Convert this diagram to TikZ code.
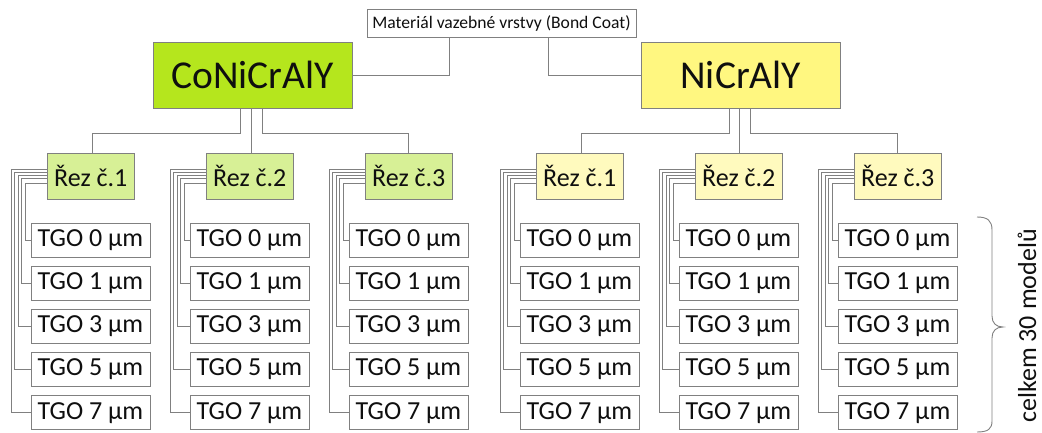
\documentclass[tikz,border=0pt]{standalone}
\usepackage{fontspec}
\setmainfont{Carlito}
\definecolor{linegray}{RGB}{128,128,128}
\definecolor{cofill}{RGB}{181,230,29}
\definecolor{nifill}{RGB}{255,247,128}
\definecolor{rezg}{RGB}{215,240,150}
\definecolor{rezy}{RGB}{255,250,190}
\definecolor{txt}{RGB}{15,15,15}
\tikzset{
  box/.style={draw=linegray, line width=0.9pt, inner sep=0pt, text=txt},
  topbox/.style={box, fill=white, minimum width=269pt, minimum height=28pt, font=\fontsize{17.6}{18}\selectfont},
  mainbox/.style={box, minimum width=199pt, minimum height=66pt, font=\fontsize{39.5}{41}\selectfont},
  rezbox/.style={box, minimum width=86.5pt, minimum height=46pt, font=\fontsize{26}{27}\selectfont},
  tgobox/.style={box, fill=white, minimum width=119pt, minimum height=34pt, font=\fontsize{26}{27}\selectfont},
  conn/.style={draw=linegray, line width=0.9pt},
}
\begin{document}
\begin{tikzpicture}[x=1pt, y=-1pt]
\useasboundingbox (0,0) rectangle (1042,433);
\node[topbox] (top) at (501.5,23) {Materiál vazebné vrstvy (Bond Coat)};
\node[mainbox, fill=cofill] (co) at (252.5,75) {CoNiCrAlY};
\node[mainbox, fill=nifill, minimum width=198.5pt] (ni) at (740.75,75) {NiCrAlY};
\draw[conn] (co.east) -| ([xshift=-52pt]top.south);
\draw[conn] (ni.west) -| ([xshift=47pt]top.south);
\foreach \g/\dx/\lab/\fc in {1/0/1/rezg, 2/159/2/rezg, 3/318/3/rezg, 4/489/1/rezy, 5/648/2/rezy, 6/807/3/rezy}{
  \node[rezbox, fill=\fc] (r\g) at (90.75+\dx,176) {Řez č.\lab};
  \foreach \i/\v/\yo/\xo in {0/0/7/22, 1/1/2.5/25.5, 2/3/-0.5/29, 3/5/-3.5/32.5, 4/7/-6.5/36}{
    \node[tgobox] (t\g-\i) at (90.5+\dx,240+43.2*\i) {TGO \v\ µm};
    \draw[conn] ([yshift=-\yo pt]r\g.west) -- ++(-\xo,0) |- (t\g-\i.west);
  }
}
% main to section connectors
\draw[conn] ([xshift=-12pt]co.south) -- ++(0,25) -| ([xshift=2pt]r1.north);
\draw[conn] ([xshift=-1pt]co.south) -- ([xshift=-1pt]co.south |- r2.north);
\draw[conn] ([xshift=10pt]co.south) -- ++(0,25) -| (r3.north);
\draw[conn] ([xshift=-11.5pt]ni.south) -- ++(0,25) -| ([xshift=2pt]r4.north);
\draw[conn] ([xshift=-1pt]ni.south) -- ([xshift=-1pt]ni.south |- r5.north);
\draw[conn] ([xshift=10pt]ni.south) -- ++(0,25) -| (r6.north);
% brace
\draw[conn] (977,217) .. controls (988,217) and (992,221) .. (992,230)
  -- (992,316) .. controls (992,323) and (996,327) .. (1003,327)
  .. controls (996,327) and (992,331) .. (992,338)
  -- (992,421) .. controls (992,429) and (988,432) .. (977,432);
\node[rotate=90, text=txt, font=\fontsize{26}{27}\selectfont, inner sep=0pt] (lbl) at (1027,326) {celkem 30 modelů};
\end{tikzpicture}
\end{document}
